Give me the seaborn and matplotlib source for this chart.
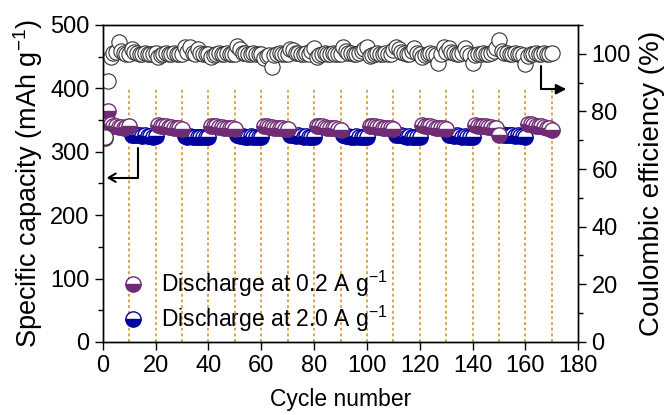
import numpy as np
import pandas as pd
import matplotlib
matplotlib.use("Agg")
import matplotlib.pyplot as plt
import seaborn as sns

# ---------------------------------------------------------------------
# data (170 cycles, rate switched every 10 cycles)
# ---------------------------------------------------------------------
segment_rates = ["0.2", "2.0", "0.2", "2.0", "0.2", "2.0", "0.2", "2.0", "0.2",
                 "2.0", "0.2", "2.0", "0.2", "2.0", "0.2", "2.0", "0.2"]
segment_length = 10

capacity = [
    322, 365, 343, 341, 340, 339, 339, 338, 339, 341,   # 0.2
    327, 326, 327, 326, 325, 326, 325, 325, 324, 325,   # 2.0
    342, 341, 340, 340, 339, 339, 338, 338, 337, 336,
    325, 324, 325, 324, 324, 323, 324, 323, 323, 324,
    341, 340, 340, 339, 339, 338, 338, 337, 337, 336,
    326, 325, 325, 324, 324, 325, 323, 324, 323, 323,
    341, 340, 339, 339, 338, 338, 337, 337, 336, 336,
    327, 326, 325, 326, 325, 324, 325, 324, 324, 323,
    341, 340, 340, 339, 338, 338, 337, 337, 336, 335,
    326, 325, 325, 324, 324, 325, 324, 323, 324, 323,
    341, 341, 340, 339, 339, 338, 338, 337, 337, 336,
    327, 326, 326, 325, 324, 325, 324, 324, 323, 324,
    342, 341, 340, 340, 339, 338, 338, 337, 337, 336,
    327, 326, 325, 326, 325, 324, 325, 324, 324, 323,
    342, 341, 341, 340, 340, 339, 339, 338, 337, 327,
    328, 327, 326, 327, 326, 325, 326, 325, 325, 324,
    344, 343, 342, 341, 341, 340, 339, 338, 337, 335,
]

efficiency = [
    71.0, 90.5, 99.0, 100.2, 100.6, 104.0, 100.8, 100.3, 100.0, 99.8,
    101.8, 100.5, 100.2, 100.0, 99.9, 100.1, 100.0, 99.8, 100.0, 100.1,
    98.8, 99.5, 100.0, 100.1, 99.9, 100.0, 100.1, 99.9, 100.0, 100.0,
    102.2, 100.6, 102.4, 100.3, 100.0, 101.5, 100.1, 100.0, 99.8, 100.0,
    99.0, 99.6, 100.0, 100.1, 99.9, 100.0, 100.2, 100.0, 99.9, 100.0,
    102.6, 101.6, 100.4, 100.1, 100.0, 99.9, 100.1, 100.0, 99.8, 100.0,
    98.6, 99.2, 99.4, 95.4, 99.6, 100.0, 100.1, 99.9, 100.0, 100.0,
    101.8, 101.2, 100.4, 100.1, 100.0, 99.9, 100.1, 100.0, 100.8, 102.0,
    99.0, 99.5, 100.0, 100.1, 99.9, 100.0, 100.1, 99.9, 100.0, 100.0,
    102.4, 101.0, 100.3, 100.1, 100.0, 99.9, 100.1, 100.8, 101.6, 102.2,
    99.2, 99.6, 100.0, 100.1, 99.9, 100.0, 100.1, 100.0, 99.9, 101.4,
    102.4, 101.8, 100.6, 100.1, 100.0, 99.9, 100.8, 102.0, 100.4, 100.0,
    99.0, 99.6, 100.0, 100.1, 99.9, 99.6, 96.8, 99.8, 102.4, 100.6,
    102.0, 100.6, 100.1, 100.0, 99.9, 100.4, 102.0, 100.3, 99.6, 96.8,
    99.4, 99.8, 100.0, 100.1, 99.9, 100.0, 100.2, 100.8, 102.0, 104.8,
    101.0, 100.4, 100.1, 100.0, 99.9, 100.1, 100.0, 99.8, 99.4, 96.5,
    99.2, 99.8, 100.0, 100.1, 99.9, 100.0, 100.1, 99.9, 100.0, 100.3,
]

switch_cycles = [10, 20, 30, 40, 50, 60, 70, 80, 90, 100, 110, 120, 130, 140, 150, 160, 170]

df = pd.DataFrame({
    "cycle": np.arange(1, len(capacity) + 1),
    "capacity": capacity,
    "efficiency": efficiency,
    "rate": np.repeat(segment_rates, segment_length),
})

PURPLE = "#6F2C75"
BLUE = "#00009C"
DOTS = "#D4952A"

# ---------------------------------------------------------------------
# style
# ---------------------------------------------------------------------
sns.set_style("ticks")
plt.rcParams["font.family"] = ["Liberation Sans", "DejaVu Sans"]
plt.rcParams["mathtext.fontset"] = "custom"
plt.rcParams["mathtext.rm"] = "Liberation Sans"
for key in ("text.color", "axes.labelcolor", "xtick.color", "ytick.color",
            "xtick.labelcolor", "ytick.labelcolor"):
    plt.rcParams[key] = "black"

fig, ax = plt.subplots(figsize=(6.67, 4.15), dpi=100)
fig.subplots_adjust(left=0.154, right=0.867, bottom=0.176, top=0.94)
ax2 = ax.twinx()

# rate-switch markers
ax.vlines(switch_cycles, 0, 400, colors=DOTS, linewidth=1.2,
          linestyles=(0, (1.7, 1.7)), zorder=1)

marker_kws = dict(marker="o", markersize=11, linestyle="", estimator=None,
                  sort=False, fillstyle="bottom", markerfacecoloralt="white",
                  markeredgewidth=1.0)

slow = df[df["rate"] == "0.2"]
fast = df[df["rate"] == "2.0"]

sns.lineplot(data=fast, x="cycle", y="capacity", ax=ax, color=BLUE,
             markerfacecolor=BLUE, markeredgecolor=BLUE,
             label="Discharge at 2.0 A g$^{-1}$", zorder=3, **marker_kws)
sns.lineplot(data=slow, x="cycle", y="capacity", ax=ax, color=PURPLE,
             markerfacecolor=PURPLE, markeredgecolor=PURPLE,
             label="Discharge at 0.2 A g$^{-1}$", zorder=4, **marker_kws)

sns.lineplot(data=df, x="cycle", y="efficiency", ax=ax2, marker="o",
             markersize=11, linestyle="", estimator=None, sort=False,
             color="#333333", markerfacecolor="white", markeredgecolor="#333333",
             markeredgewidth=0.8, legend=False)

# axes
ax.set_xlim(0, 180)
ax.set_ylim(0, 500)
ax2.set_ylim(0, 110)
ax.set_xticks(range(0, 181, 20))
ax.set_yticks(range(0, 501, 100))
ax.set_yticks(range(50, 500, 100), minor=True)
ax2.set_yticks(range(0, 101, 20))
ax2.set_yticks(range(10, 111, 20), minor=True)

for a in (ax, ax2):
    for s in a.spines.values():
        s.set_visible(True)
        s.set_color("black")
        s.set_linewidth(1.0)
    a.tick_params(which="major", length=6, width=1.0, labelsize=17,
                  color="black", labelcolor="black")
    a.tick_params(which="minor", length=3.5, width=1.0, color="black")

ax.set_xlabel("Cycle number", fontsize=16.5, labelpad=8, color="black")
ax.set_ylabel("Specific capacity (mAh g$^{-1}$)", fontsize=19.5, labelpad=4,
              color="black")
ax2.set_ylabel("Coulombic efficiency (%)", fontsize=20, labelpad=6, color="black")

# pointer arrows
ax.annotate("", xy=(1.5, 259), xytext=(13.3, 306),
            arrowprops=dict(arrowstyle="->,head_length=0.5,head_width=0.3",
                            connectionstyle="angle,angleA=90,angleB=0,rad=0",
                            lw=1.5, color="black", shrinkA=0, shrinkB=0))
ax2.annotate("", xy=(175.5, 87.7), xytext=(166, 95.7),
             arrowprops=dict(arrowstyle="-|>,head_length=0.6,head_width=0.3",
                             connectionstyle="angle,angleA=90,angleB=0,rad=0",
                             lw=1.5, color="black", shrinkA=0, shrinkB=0))

# legend (0.2 first)
handles, labels = ax.get_legend_handles_labels()
order = [labels.index(l) for l in sorted(labels)]
leg = ax.legend([handles[i] for i in order], [labels[i] for i in order],
                loc="lower left", bbox_to_anchor=(0.04, 0.025), frameon=False,
                fontsize=16.5, handlelength=1.0, handletextpad=0.7,
                labelspacing=0.22, borderaxespad=0, borderpad=0, numpoints=1)
for t in leg.get_texts():
    t.set_color("black")

fig.savefig("out.png", dpi=100)
